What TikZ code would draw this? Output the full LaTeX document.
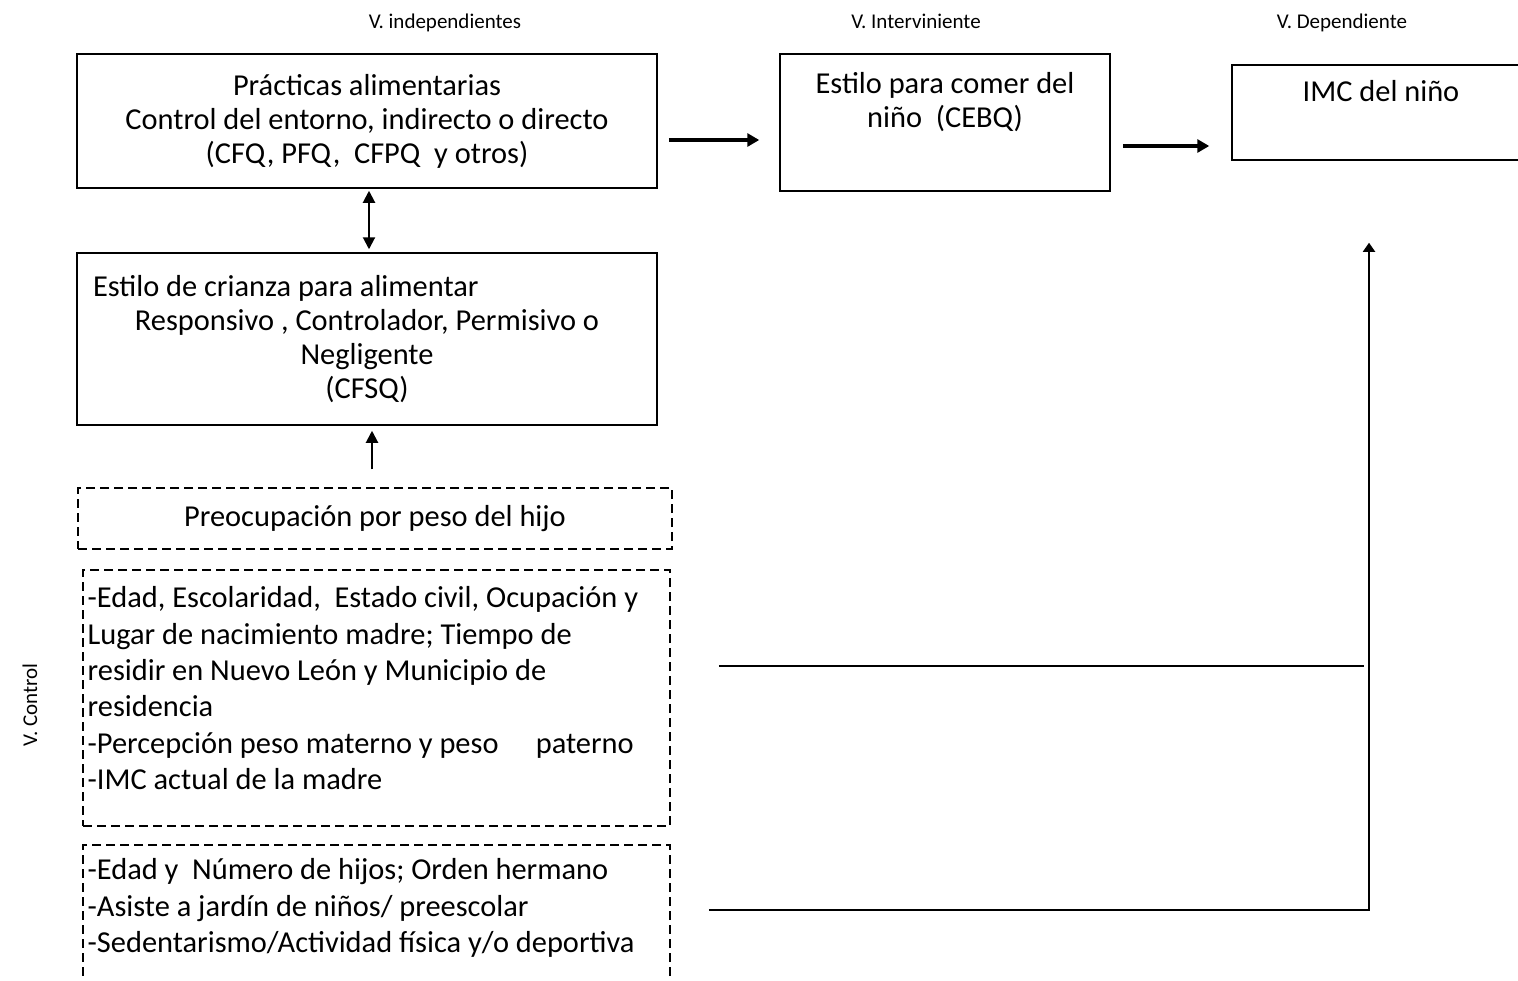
\documentclass[tikz,border=0pt]{standalone}
\usepackage{fontspec}
\setmainfont{Carlito}
\usetikzlibrary{arrows.meta,positioning}

\begin{document}
\begin{tikzpicture}[
    x=0.5pt, y=-0.5pt,
    txt/.style={font=\fontsize{15.2}{17}\selectfont},
    lista/.style={font=\fontsize{15.2}{18.2}\selectfont, align=flush left, inner sep=0pt},
    caja/.style={draw, line width=0.75pt, txt, align=flush center, inner sep=0pt},
    cajad/.style={caja, dash pattern=on 4.5pt off 2.5pt},
    titulo/.style={font=\fontsize{10.5}{12}\selectfont},
    % Arrow styles
    gruesa/.style={line width=2.2pt, -{Triangle[length=6pt, width=6.5pt]}},
    fina/.style={line width=1pt, -{Triangle[length=6pt, width=6pt]}},
    doble/.style={line width=1pt, {Triangle[length=6pt, width=6pt]}-{Triangle[length=6pt, width=6pt]}},
    flecha/.style={line width=0.9pt, -{Triangle[length=4.5pt, width=6pt]}},
    linea/.style={line width=0.6pt},
    ]
    \useasboundingbox (0,0) rectangle (1518,980);
    \clip (0,0) rectangle (1518,980);

    % Column titles
    \node[titulo, anchor=base] (tind) at (445,28) {V. independientes};
    \node[titulo, anchor=base] (tint) at (916,28) {V. Interviniente};
    \node[titulo, anchor=base] (tdep) at (1342,28) {V. Dependiente};
    \node[titulo, rotate=90] (tcon) at (30,705) {V. Control};

    % Independent variables
    \node[caja, minimum width=290pt, minimum height=67pt] (b1) at (367,121)
        {Prácticas alimentarias\\Control del entorno, indirecto o directo\\(CFQ, PFQ,\ \ CFPQ\ \ y otros)};
    \node[caja, minimum width=290pt, minimum height=86pt, text width=274pt] (b4) at (367,339)
        {\makebox[274pt][l]{Estilo de crianza para alimentar}\\Responsivo , Controlador, Permisivo o\\Negligente\\(CFSQ)};

    % Intervening and dependent variables
    \node[caja, minimum width=165pt, minimum height=68.5pt,
        label={[txt, align=flush center, anchor=north, inner sep=0pt, yshift=-8pt]north:{\rule{0pt}{12pt}Estilo para comer del\\niño\ \ (CEBQ)}}] (b2) at (945,122.5) {};
    \node[caja, minimum width=149pt, minimum height=47.5pt,
        label={[txt, anchor=north, inner sep=0pt, yshift=-6.5pt]north:{\rule{0pt}{12pt}IMC del niño}}] (b3) at (1381,112.5) {};

    % Control variables (dashed)
    \node[cajad, minimum width=297pt, minimum height=30.5pt] (b5) at (375,518.5)
        {Preocupación por peso del hijo};
    \node[cajad, minimum width=293.5pt, minimum height=128pt,
        label={[lista, anchor=north west, xshift=2.5pt, yshift=-7pt]north west:{\rule{0pt}{12pt}-Edad, Escolaridad,\ \ Estado civil, Ocupación y\\Lugar de nacimiento madre; Tiempo de\\residir en Nuevo León y Municipio de\\residencia\\-Percepción peso materno y peso\quad\ paterno\\-IMC actual de la madre}}] (b6) at (376.5,698) {};
    \node[cajad, minimum width=293.5pt, minimum height=80pt,
        label={[lista, anchor=north west, xshift=2.5pt, yshift=-5.5pt]north west:{\rule{0pt}{12pt}-Edad y\ \ Número de hijos; Orden hermano\\-Asiste a jardín de niños/ preescolar\\-Sedentarismo/Actividad física y/o deportiva}}] (b7) at (376.5,925) {};

    % Connections
    \draw[gruesa, shorten <=5.5pt, shorten >=10pt] (b1.east |- 0,140) -- (b2.west |- 0,140);
    \draw[gruesa, shorten <=6pt, shorten >=11pt] (b2.east |- 0,146) -- (b3.west |- 0,146);
    \draw[doble, shorten <=1pt, shorten >=1.5pt] (b1.south -| 369,0) -- (b4.north -| 369,0);
    \draw[fina, shorten <=9pt, shorten >=2.5pt] (b5.north -| 372,0) -- (b4.south -| 372,0);

    % Control lines to the child's BMI
    \coordinate (m1) at (1364,666);
    \coordinate (m2) at (1369,910);
    \draw[linea, shorten <=24pt] (b6.east |- m1) -- (m1);
    \draw[flecha, shorten <=19pt, shorten >=41pt] (b7.east |- m2) -- (m2) -- (m2 |- b3.south);

\end{tikzpicture}
\end{document}
